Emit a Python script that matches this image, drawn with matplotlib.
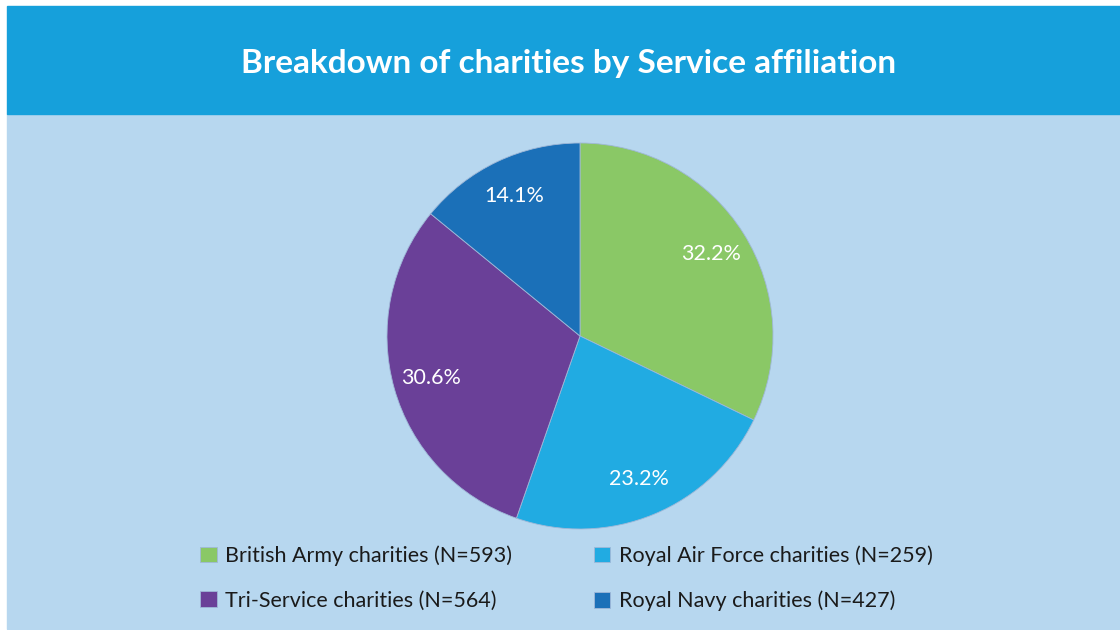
import matplotlib
matplotlib.use('Agg')
import matplotlib.pyplot as plt
from matplotlib.patches import Rectangle

# Data
categories = ['British Army charities (N=593)', 'Royal Air Force charities (N=259)',
              'Tri-Service charities (N=564)', 'Royal Navy charities (N=427)']
shares = [32.2, 23.2, 30.6, 14.1]
colors = ['#8ac866', '#21abe2', '#6a4098', '#1b70b8']

W, H = 1120, 630
header_col = '#16a0db'
bg_col = '#b7d7ef'

plt.rcParams['font.family'] = ['Lato', 'DejaVu Sans']

fig = plt.figure(figsize=(W / 100, H / 100), dpi=100)
fig.patch.set_facecolor('white')

# background panels (pixel coords -> figure fraction)
fig.patches.append(Rectangle((7 / W, 1 / H), 1 - 7 / W, (H - 114 - 1) / H,
                             transform=fig.transFigure, color=bg_col, zorder=-2))
fig.patches.append(Rectangle((7 / W, (H - 114) / H), 1 - 7 / W, (114 - 6) / H,
                             transform=fig.transFigure, color=header_col, zorder=-2))

fig.text(569 / W, 1 - 63 / H, 'Breakdown of charities by Service affiliation',
         color='white', fontsize=24, fontweight='bold', ha='center', va='center')

# pie axes: centre (580, 336), radius 193 px
cx, cy, r = 580, 336, 193
ax = fig.add_axes([(cx - r) / W, (H - cy - r) / H, 2 * r / W, 2 * r / H])
ax.set_zorder(2)
ax.patch.set_visible(False)
wedges, texts, autotexts = ax.pie(
    shares, colors=colors, startangle=90, counterclock=False,
    autopct='%.1f%%', pctdistance=0.8,
    wedgeprops=dict(linewidth=0.6, edgecolor='#9fb8d8'),
    textprops=dict(color='white', fontsize=15.5))
ax.set_xlim(-1, 1)
ax.set_ylim(-1, 1)
ax.set_aspect('equal')

# legend: two columns, Army/Tri in first, RAF/Navy in second
order = [0, 2, 1, 3]
leg = fig.legend([wedges[i] for i in order], [categories[i] for i in order],
                 ncol=2, loc='upper left', bbox_to_anchor=(181 / W, 1 - 526 / H),
                 frameon=False, fontsize=15.5, handlelength=0.75, handleheight=0.75,
                 handletextpad=0.4, columnspacing=3.8, labelspacing=1.15,
                 labelcolor='#1a1a1a')
leg.set_zorder(3)

fig.savefig('out.png', dpi=100, facecolor=fig.get_facecolor())
